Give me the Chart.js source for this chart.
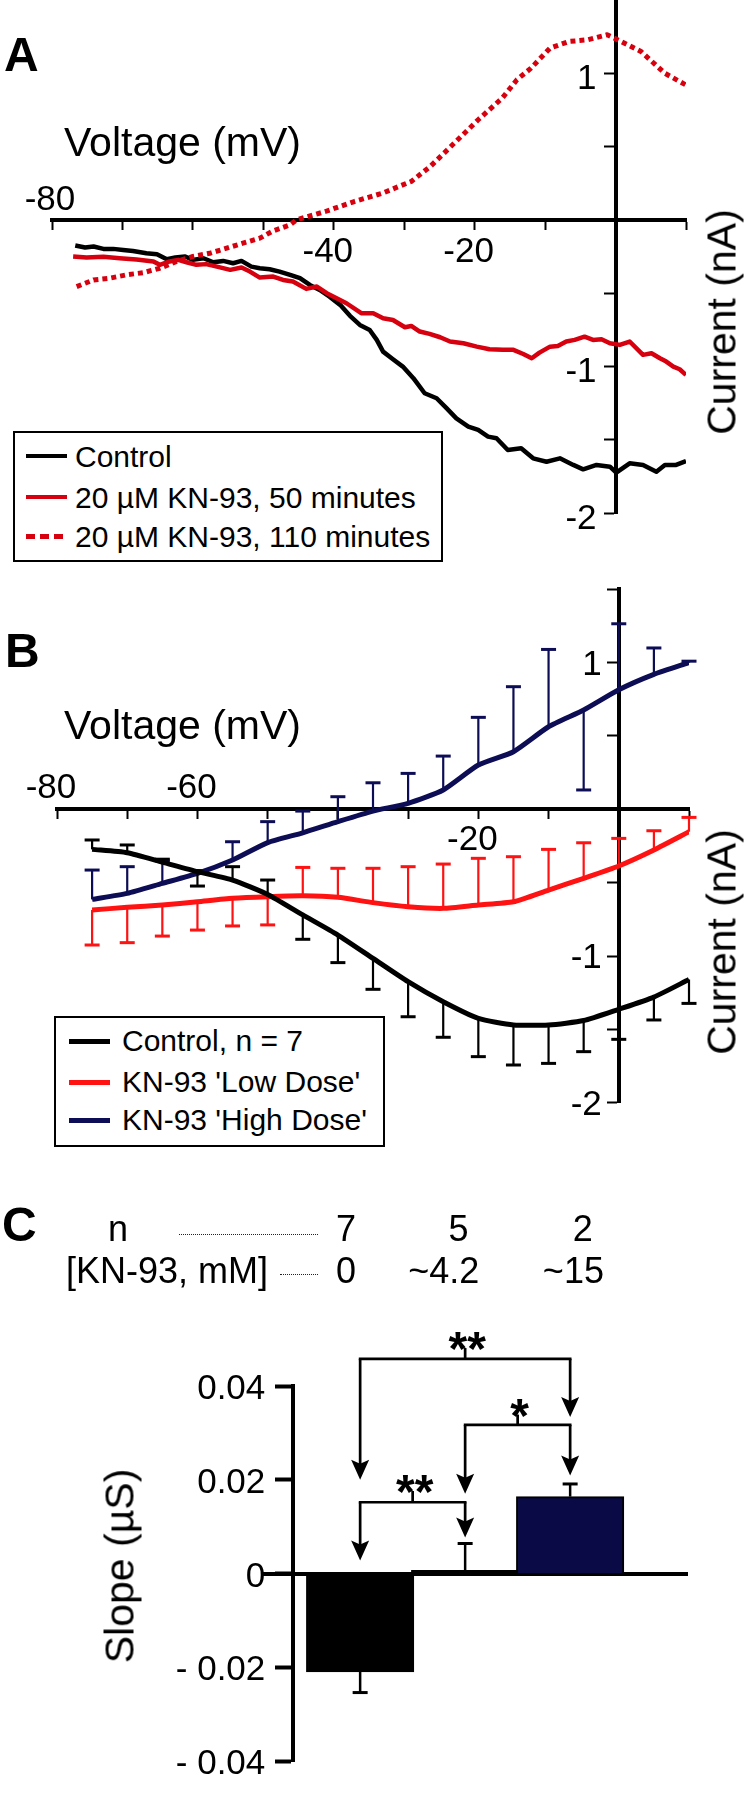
<!DOCTYPE html>
<html><head><meta charset="utf-8">
<script src="https://cdn.jsdelivr.net/npm/chart.js@4.4.1/dist/chart.umd.min.js"></script>
<style>
html,body{margin:0;padding:0;background:#fff;}
body{width:750px;height:1793px;position:relative;overflow:hidden;font-family:'Liberation Sans',Arial,Helvetica,sans-serif;color:#000;}
canvas{position:absolute;left:0;}
.t{position:absolute;white-space:nowrap;line-height:1;color:#000;}
.box{position:absolute;border:2.7px solid #000;box-sizing:border-box;background:#fff;}
.smp{position:absolute;}
.dots{position:absolute;height:0;border-top:1.5px dotted #222;}
</style></head><body>
<canvas id="cA" width="750" height="580" style="top:0px"></canvas>
<canvas id="cB" width="750" height="580" style="top:580px"></canvas>
<canvas id="cC" width="750" height="633" style="top:1160px"></canvas>
<script>
// ================= DATA =================
// Panel A : single-cell I-V traces
const voltA_control = [-76.7,-75.3,-74.1,-72.7,-71.3,-69.9,-68.5,-66.6,-65.1,-63.7,-62.5,-61.1,-60.0,-58.5,-57.1,-55.7,-54.3,-53.1,-51.7,-50.5,-49.1,-47.7,-46.2,-44.8,-43.4,-42.0,-40.6,-39.1,-37.7,-36.3,-34.9,-33.9,-33.0,-31.6,-30.2,-28.7,-27.1,-25.4,-24.0,-22.6,-20.9,-19.5,-18.1,-16.9,-15.3,-13.4,-11.7,-9.8,-7.9,-6.0,-4.6,-2.7,-0.8,0.1,2.0,3.9,5.8,7.0,8.6,10.0];
const currA_control = [-0.175,-0.189,-0.182,-0.198,-0.198,-0.205,-0.212,-0.228,-0.234,-0.268,-0.257,-0.250,-0.273,-0.262,-0.289,-0.280,-0.296,-0.280,-0.319,-0.330,-0.337,-0.353,-0.375,-0.398,-0.444,-0.478,-0.524,-0.580,-0.655,-0.717,-0.751,-0.819,-0.899,-0.951,-1.001,-1.080,-1.183,-1.217,-1.285,-1.354,-1.410,-1.433,-1.479,-1.490,-1.570,-1.558,-1.627,-1.650,-1.627,-1.672,-1.702,-1.672,-1.684,-1.725,-1.661,-1.672,-1.718,-1.672,-1.672,-1.645];
const voltA_50min = [-77.0,-75.1,-72.7,-70.4,-68.0,-65.6,-64.7,-63.3,-62.1,-60.9,-59.5,-58.1,-56.6,-54.7,-53.1,-51.9,-50.5,-48.6,-47.2,-45.8,-43.9,-42.4,-41.0,-39.6,-38.2,-36.1,-34.4,-33.0,-31.6,-29.9,-29.0,-27.8,-26.4,-24.9,-23.5,-21.6,-19.7,-17.9,-16.0,-14.5,-13.1,-11.9,-10.8,-9.3,-8.2,-7.0,-5.8,-4.4,-3.2,-2.0,-0.8,0.6,2.0,3.9,5.1,6.3,7.2,8.2,9.1,10.0];
const currA_50min = [-0.250,-0.257,-0.252,-0.262,-0.271,-0.284,-0.307,-0.284,-0.273,-0.289,-0.307,-0.302,-0.319,-0.341,-0.325,-0.353,-0.394,-0.387,-0.410,-0.421,-0.471,-0.455,-0.500,-0.535,-0.569,-0.637,-0.637,-0.671,-0.683,-0.733,-0.724,-0.762,-0.778,-0.801,-0.830,-0.842,-0.865,-0.883,-0.887,-0.887,-0.915,-0.944,-0.906,-0.865,-0.860,-0.830,-0.819,-0.797,-0.819,-0.815,-0.842,-0.853,-0.830,-0.921,-0.910,-0.944,-0.967,-1.001,-1.019,-1.058];
const voltA_110min = [-76.5,-74.1,-71.8,-69.4,-67.0,-64.7,-62.3,-60.0,-57.6,-55.2,-52.9,-50.5,-48.6,-46.2,-45.3,-41.2,-37.1,-33.1,-29.0,-26.3,-22.9,-19.5,-16.1,-14.0,-12.0,-9.3,-6.6,-3.9,-1.2,0.8,3.6,7.0,10.0];
const currA_110min = [-0.455,-0.410,-0.398,-0.375,-0.360,-0.330,-0.284,-0.250,-0.228,-0.193,-0.159,-0.125,-0.075,-0.034,0.000,0.057,0.125,0.182,0.262,0.364,0.523,0.683,0.830,0.956,1.035,1.172,1.217,1.229,1.263,1.217,1.149,1.000,0.920];
const seriesA = ['Control', '20 \u00b5M KN-93, 50 minutes', '20 \u00b5M KN-93, 110 minutes'];
const xTicksA = [-80, -40, -20];
const yTicksA = [1, -1, -2];

// Panel B : mean I-V with one-sided SEM bars
const voltB = [-75,-70,-65,-60,-55,-50,-45,-40,-35,-30,-25,-20,-15,-10,-5,0,5,10];
const currB_control = [-0.273,-0.296,-0.360,-0.425,-0.482,-0.580,-0.720,-0.857,-1.016,-1.175,-1.312,-1.425,-1.470,-1.470,-1.440,-1.363,-1.280,-1.160];
const errB_control  = [0.064,0.053,0.020,-0.098,0.091,0.098,-0.166,-0.188,-0.211,-0.239,-0.242,-0.261,-0.273,-0.262,-0.212,-0.205,-0.156,-0.163];
const currB_low  = [-0.686,-0.668,-0.652,-0.630,-0.607,-0.596,-0.590,-0.600,-0.636,-0.664,-0.675,-0.652,-0.630,-0.550,-0.470,-0.386,-0.277,-0.153];
const errB_low   = [-0.239,-0.241,-0.212,-0.193,-0.188,-0.192,0.194,0.198,0.234,0.273,0.302,0.318,0.307,0.277,0.242,0.188,0.131,0.098];
const currB_high = [-0.614,-0.573,-0.505,-0.437,-0.346,-0.227,-0.160,-0.084,-0.012,0.041,0.132,0.302,0.393,0.563,0.677,0.815,0.920,1.000];
const errB_high  = [0.200,0.182,0.153,0.020,0.125,0.143,0.148,0.170,0.193,0.204,0.231,0.325,0.443,0.527,-0.545,0.450,0.180,0.010];
const seriesB = ['Control, n = 7', "KN-93 'Low Dose'", "KN-93 'High Dose'"];
const xTicksB = [-80, -60, -20];
const yTicksB = [1, -1, -2];

// Panel C : slope bar chart
const groupsC = ['Control', 'Low Dose', 'High Dose'];
const slopeC  = [-0.0210, 0.0007, 0.0164];
const errC    = [-0.0044, 0.0057, 0.0027];
const nC      = ['7', '5', '2'];
const concC   = ['0', '~4.2', '~15'];
const yTicksC = [0.04, 0.02, 0, -0.02, -0.04];
const yTickTextC = ['0.04', '0.02', '0', '- 0.02', '- 0.04'];
const sigLabelsC = ['**', '*', '**'];
const sigPairsC  = [[0, 2], [1, 2], [0, 1]];

// ================= HELPERS =================
const FAM = "'Liberation Sans', Arial, Helvetica, sans-serif";
Chart.defaults.font.family = FAM;
const xy = (xs, ys) => xs.map((v, i) => ({x: v, y: ys[i]}));

function txt(s, x, base, size, o = {}) {
  const d = document.createElement('div');
  d.className = 't';
  d.textContent = s;
  d.style.fontSize = size + 'px';
  if (o.bold) d.style.fontWeight = 'bold';
  if (o.rotate) {
    d.style.left = x + 'px'; d.style.top = base + 'px';
    d.style.transform = 'translate(-50%,-50%) rotate(-90deg)';
  } else {
    d.style.left = x + 'px';
    d.style.top = (base - 0.8465 * size) + 'px';
    if (o.align === 'center') d.style.transform = 'translateX(-50%)';
    if (o.align === 'right') d.style.transform = 'translateX(-100%)';
  }
  document.body.appendChild(d);
  return d;
}
function box(l, t, w, h) {
  const d = document.createElement('div'); d.className = 'box';
  Object.assign(d.style, {left: l + 'px', top: t + 'px', width: w + 'px', height: h + 'px'});
  document.body.appendChild(d);
}
function sample(l, cy, w, th, color, dash) {
  const d = document.createElement('div'); d.className = 'smp';
  Object.assign(d.style, {left: l + 'px', top: (cy - th / 2) + 'px', width: w + 'px', height: th + 'px'});
  d.style.background = dash ? `repeating-linear-gradient(90deg, ${color} 0 9px, transparent 9px 14px)` : color;
  document.body.appendChild(d);
}
function dots(l, r, y) {
  const d = document.createElement('div'); d.className = 'dots';
  Object.assign(d.style, {left: l + 'px', top: y + 'px', width: (r - l) + 'px'});
  document.body.appendChild(d);
}

// tick label plugin (labels drawn at scale positions)
const axisTextPlugin = {
  id: 'axisText',
  afterDraw(chart, args, o) {
    const {ctx} = chart; const xs = chart.scales.x, ys = chart.scales.y;
    ctx.save(); ctx.fillStyle = '#000'; ctx.font = o.font; ctx.textBaseline = 'alphabetic';
    (o.items || []).forEach(it => {
      let px, py;
      if (it.axis === 'x') {
        px = xs.getPixelForValue(it.value) + it.dx; py = ys.getPixelForValue(0) + it.dy; ctx.textAlign = 'center';
      } else {
        px = xs.getPixelForValue(o.yAxisAt) + it.dx; py = ys.getPixelForValue(it.value) + it.dy; ctx.textAlign = 'right';
      }
      ctx.fillText(it.text, px, py);
    });
    ctx.restore();
  }
};
// one-sided error bars
const errorBarPlugin = {
  id: 'errorBars',
  afterDatasetDraw(chart, args) {
    const ds = chart.data.datasets[args.index];
    if (!ds.errorBars) return;
    const {ctx} = chart; const xs = chart.scales.x, ys = chart.scales.y;
    ctx.save(); ctx.strokeStyle = ds.errorColor; ctx.lineCap = 'butt';
    ds.data.forEach((p, j) => {
      const e = ds.errorBars[j];
      if (e === null || e === undefined) return;
      const px = xs.getPixelForValue(p.x);
      const y0 = ys.getPixelForValue(p.y), y1 = ys.getPixelForValue(p.y + e);
      ctx.lineWidth = ds.errorWidth;
      ctx.beginPath(); ctx.moveTo(px, y0); ctx.lineTo(px, y1); ctx.stroke();
      ctx.lineWidth = ds.capThick;
      ctx.beginPath(); ctx.moveTo(px - ds.capHalf, y1); ctx.lineTo(px + ds.capHalf, y1); ctx.stroke();
    });
    ctx.restore();
  }
};
// significance brackets for panel C
const bracketPlugin = {
  id: 'brackets',
  afterDraw(chart, args, o) {
    const {ctx} = chart; const xs = chart.scales.x, ys = chart.scales.y;
    ctx.save(); ctx.strokeStyle = '#000'; ctx.fillStyle = '#000'; ctx.lineWidth = 2.7;
    const arrow = (x, yTop, yTip) => {
      ctx.beginPath(); ctx.moveTo(x, yTop); ctx.lineTo(x, yTip - 14); ctx.stroke();
      ctx.beginPath(); ctx.moveTo(x, yTip); ctx.lineTo(x - 9, yTip - 20); ctx.lineTo(x, yTip - 16); ctx.lineTo(x + 9, yTip - 20); ctx.closePath(); ctx.fill();
    };
    o.items.forEach(b => {
      const x1 = xs.getPixelForValue(b.pair[0] + 1), x2 = xs.getPixelForValue(b.pair[1] + 1);
      const yl = ys.getPixelForValue(b.line), yt = ys.getPixelForValue(b.top);
      const xm = (x1 + x2) / 2;
      ctx.lineCap = 'square';
      ctx.beginPath(); ctx.moveTo(x1, yl); ctx.lineTo(x2, yl); ctx.stroke();
      ctx.lineCap = 'butt';
      ctx.beginPath(); ctx.moveTo(xm, yl); ctx.lineTo(xm, yt); ctx.stroke();
      arrow(x1, yl, ys.getPixelForValue(b.tipA));
      arrow(x2, yl, ys.getPixelForValue(b.tipB));
      ctx.font = 'bold 48px ' + FAM; ctx.textAlign = 'center'; ctx.textBaseline = 'alphabetic';
      ctx.fillText(b.text, xm + 2, yt + 17);
    });
    ctx.restore();
  }
};

const axisStyle = (len, tw) => ({
  grid: {display: true, drawOnChartArea: false, drawTicks: true, tickLength: len, tickWidth: tw, tickColor: '#000'},
  border: {display: true, color: '#000', width: 4}
});

// ================= PANEL A =================
const colA = ['#000000', '#d6000f', '#d6000f'];
new Chart(document.getElementById('cA'), {
  type: 'line',
  data: {datasets: [
    {label: seriesA[0], data: xy(voltA_control, currA_control), borderColor: colA[0], borderWidth: 4.5, order: 3},
    {label: seriesA[1], data: xy(voltA_50min, currA_50min), borderColor: colA[1], borderWidth: 4.5, order: 2},
    {label: seriesA[2], data: xy(voltA_110min, currA_110min), borderColor: colA[2], borderWidth: 5, borderDash: [5, 4], borderCapStyle: 'butt', order: 1}
  ]},
  options: {
    responsive: false, animation: false, events: [],
    layout: {padding: {left: 52, right: 64, top: 0, bottom: 67}},
    elements: {point: {radius: 0}, line: {tension: 0, borderJoinStyle: 'round'}},
    plugins: {legend: {display: false}, tooltip: {enabled: false},
      axisText: {font: '35px ' + FAM, yAxisAt: 0, items: [
        ...xTicksA.map(v => ({axis: 'x', value: v, text: String(v), dx: v === -80 ? -2 : -6, dy: v === -80 ? -10 : 42})),
        ...yTicksA.map(v => ({axis: 'y', value: v, text: String(v), dx: -19, dy: 16}))
      ]}},
    scales: {
      x: {type: 'linear', min: -80, max: 10, position: {y: 0}, ticks: {display: false, stepSize: 10}, ...axisStyle(8, 2)},
      y: {type: 'linear', min: -2, max: 1.5, position: {x: 0}, ticks: {display: false, stepSize: 0.5},
          afterBuildTicks: s => { s.ticks = s.ticks.filter(t => t.value < 1.2 && t.value !== 0); }, ...axisStyle(10, 2)}
    }
  },
  plugins: [axisTextPlugin]
});

// ================= PANEL B =================
const colB = ['#000000', '#ff1212', '#0d0d55'];
const errStyle = c => ({errorColor: c, errorWidth: 2.2, capThick: 3, capHalf: 7.5});
new Chart(document.getElementById('cB'), {
  type: 'line',
  data: {datasets: [
    {label: seriesB[0], data: xy(voltB, currB_control), borderColor: colB[0], borderWidth: 5, errorBars: errB_control, ...errStyle(colB[0])},
    {label: seriesB[1], data: xy(voltB, currB_low), borderColor: colB[1], borderWidth: 5, errorBars: errB_low, ...errStyle(colB[1])},
    {label: seriesB[2], data: xy(voltB, currB_high), borderColor: colB[2], borderWidth: 5, errorBars: errB_high, ...errStyle(colB[2])}
  ]},
  options: {
    responsive: false, animation: false, events: [],
    layout: {padding: {left: 57, right: 61, top: 9.3, bottom: 57.3}},
    elements: {point: {radius: 0}, line: {tension: 0.2, borderJoinStyle: 'round'}},
    plugins: {legend: {display: false}, tooltip: {enabled: false},
      axisText: {font: '35px ' + FAM, yAxisAt: 0, items: [
        ...xTicksB.map(v => ({axis: 'x', value: v, text: String(v), dx: -6, dy: v === -20 ? 41 : -11})),
        ...yTicksB.map(v => ({axis: 'y', value: v, text: String(v), dx: -17, dy: 12}))
      ]}},
    scales: {
      x: {type: 'linear', min: -80, max: 10, position: {y: 0}, ticks: {display: false, stepSize: 10}, ...axisStyle(8, 2)},
      y: {type: 'linear', min: -2, max: 1.5, position: {x: 0}, ticks: {display: false, stepSize: 0.5},
          afterBuildTicks: s => { s.ticks = s.ticks.filter(t => t.value !== 0); }, ...axisStyle(10, 2)}
    }
  },
  plugins: [axisTextPlugin, errorBarPlugin]
});

// ================= PANEL C =================
const colC = ['#000000', '#000000', '#0a0a46'];
const xMinC = 0.3633, xMaxC = 3.8245;
new Chart(document.getElementById('cC'), {
  type: 'bar',
  data: {datasets: [{
    label: 'Slope', data: slopeC.map((v, i) => ({x: i + 1, y: v})),
    backgroundColor: colC, borderColor: '#000', borderWidth: 2, barThickness: 107.5,
    errorBars: errC, errorColor: '#000', errorWidth: 2.5, capThick: 3, capHalf: 7.5
  }]},
  options: {
    responsive: false, animation: false, events: [],
    layout: {padding: {left: 263, right: 63, top: 226, bottom: 32}},
    plugins: {legend: {display: false}, tooltip: {enabled: false},
      axisText: {font: '35px ' + FAM, yAxisAt: xMinC, items:
        yTicksC.map((v, i) => ({axis: 'y', value: v, text: yTickTextC[i], dx: -28, dy: 13}))},
      brackets: {items: [
        {pair: sigPairsC[0], text: sigLabelsC[0], line: 0.0458, top: 0.0481, tipA: 0.0200, tipB: 0.0334},
        {pair: sigPairsC[1], text: sigLabelsC[1], line: 0.0317, top: 0.0339, tipA: 0.0170, tipB: 0.0209},
        {pair: sigPairsC[2], text: sigLabelsC[2], line: 0.0152, top: 0.0176, tipA: 0.0028, tipB: 0.0077}
      ]}},
    scales: {
      x: {type: 'linear', min: xMinC, max: xMaxC, position: {y: 0}, ticks: {display: false},
          grid: {display: false}, border: {display: true, color: '#000', width: 4}},
      y: {type: 'linear', min: -0.04, max: 0.04, position: {x: xMinC}, ticks: {display: false, stepSize: 0.02}, ...axisStyle(16, 4)}
    }
  },
  plugins: [axisTextPlugin, errorBarPlugin, bracketPlugin]
});

// ================= TEXT, LEGENDS =================
// Panel A
txt('A', 4, 72, 48, {bold: true});
txt('Voltage (mV)', 64, 157, 41);
txt('Current (nA)', 722, 322, 41, {rotate: true});
box(13, 431, 430, 131);
const rowsA = [456, 497, 536];
sample(26, rowsA[0], 41, 4.5, colA[0]);
sample(26, rowsA[1], 41, 4.5, colA[1]);
sample(26, rowsA[2], 41, 5, colA[2], true);
seriesA.forEach((s, i) => txt(s, 75, rowsA[i] + 11, 30));

// Panel B
txt('B', 5, 668, 48, {bold: true});
txt('Voltage (mV)', 64, 740, 41);
txt('Current (nA)', 722, 942, 41, {rotate: true});
box(54, 1016, 331, 131);
const rowsB = [1041, 1082, 1120];
seriesB.forEach((s, i) => { sample(69, rowsB[i], 41, 5, colB[i]); txt(s, 122, rowsB[i] + 10, 30); });

// Panel C
txt('C', 2, 1242, 48, {bold: true});
txt('n', 108, 1241, 36);
txt('[KN-93, mM]', 66, 1283, 36);
dots(179, 318, 1234);
dots(280, 318, 1274);
const nX = [346, 458.6, 582.7];
const cX = [346, 443.8, 573.4];
nC.forEach((s, i) => txt(s, nX[i], 1241, 36, {align: 'center'}));
concC.forEach((s, i) => txt(s, cX[i], 1283, 36, {align: 'center'}));
txt('Slope (\u00b5S)', 120, 1566, 41, {rotate: true});
</script></body></html>
